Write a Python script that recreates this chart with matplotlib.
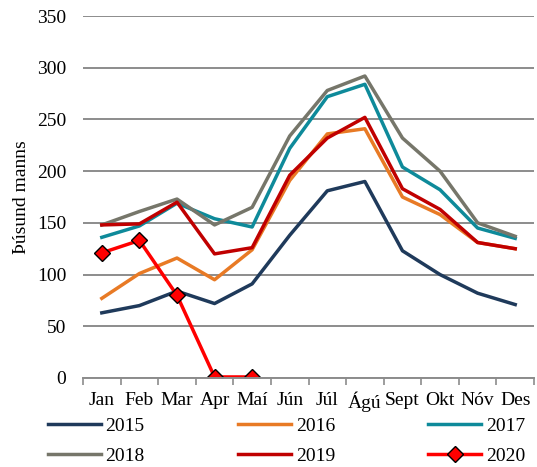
import numpy as np
import matplotlib
matplotlib.use("Agg")
import matplotlib.pyplot as plt
from matplotlib.ticker import FixedLocator

plt.rcParams["font.family"] = ["Liberation Serif", "DejaVu Serif"]

manudir = ["Jan", "Feb", "Mar", "Apr", "Maí", "Jún", "Júl", "Ágú", "Sept", "Okt", "Nóv", "Des"]

v2015 = [63, 70, 84, 72, 91, 138, 181, 190, 123, 100, 82, 71]
v2016 = [77, 101, 116, 95, 124, 191, 236, 241, 175, 158, 131, 125]
v2017 = [136, 147, 169, 154, 146, 222, 272, 284, 204, 182, 145, 135]
v2018 = [148, 161, 173, 148, 165, 234, 278, 292, 232, 200, 150, 137]
v2019 = [148, 149, 170, 120, 126, 196, 232, 252, 183, 163, 131, 125]
v2020 = [121, 133, 80, 1, 1]

fig = plt.figure(figsize=(5.37, 4.67), dpi=100)
ax = fig.add_axes([0.1546, 0.1906, 0.8398, 0.7751])

x = np.arange(len(manudir))
lw = 2.5
l15, = ax.plot(x, v2015, color="#1F3A5B", lw=lw, label="2015")
l16, = ax.plot(x, v2016, color="#E87A25", lw=lw, label="2016")
l17, = ax.plot(x, v2017, color="#0E8A9A", lw=lw, label="2017")
l18, = ax.plot(x, v2018, color="#76766A", lw=lw, label="2018")
l19, = ax.plot(x, v2019, color="#C00000", lw=lw, label="2019")
l20, = ax.plot(x[:len(v2020)], v2020, color="#FF0000", lw=lw, marker="D",
               markersize=8, markerfacecolor="#FF0000", markeredgecolor="black",
               markeredgewidth=1.0, label="2020")

ax.set_xlim(-0.5, 11.5)
ax.set_ylim(0, 350)
ax.set_yticks(range(0, 351, 50))
ax.grid(axis="y", color="#8C8C8C", lw=1.4)
ax.set_axisbelow(True)

ax.xaxis.set_major_locator(FixedLocator(np.arange(-0.5, 12, 1)))
ax.xaxis.set_minor_locator(FixedLocator(x))
ax.set_xticklabels([], minor=False)
ax.set_xticklabels(manudir, minor=True, fontsize=14)
ax.tick_params(axis="x", which="major", length=5, width=1.2, color="#8C8C8C")
ax.tick_params(axis="x", which="minor", length=0, pad=10)
ax.tick_params(axis="y", length=0, labelsize=14, pad=12)

for s in ["top", "right", "left"]:
    ax.spines[s].set_visible(False)
ax.spines["bottom"].set_color("#8C8C8C")
ax.spines["bottom"].set_linewidth(1.4)

ax.set_ylabel("Þúsund manns", fontsize=14, labelpad=5)

handles = [l15, l18, l16, l19, l17, l20]
fig.legend(handles, [h.get_label() for h in handles], ncol=3, loc="lower left",
           bbox_to_anchor=(48 / 537, 2 / 467), frameon=False, fontsize=14,
           borderpad=0, borderaxespad=0,
           handlelength=2.7, columnspacing=4.8, handletextpad=0.26, labelspacing=0.66)

fig.savefig("out.png", dpi=100)
